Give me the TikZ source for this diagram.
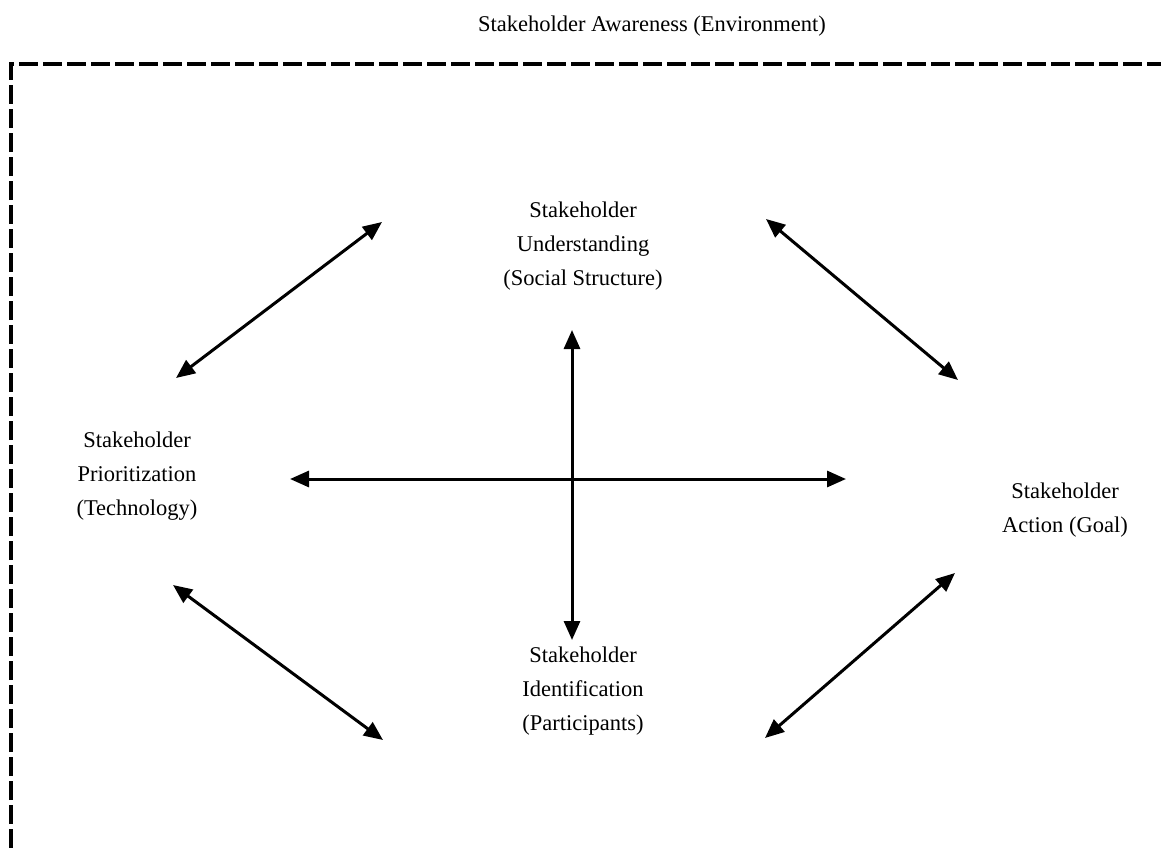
\documentclass[tikz,border=0pt]{standalone}
\usepackage{fontspec}
\setmainfont{Liberation Serif}
\usetikzlibrary{arrows.meta}
\begin{document}
\begin{tikzpicture}[x=1pt,y=-1pt,
  lbl/.style={align=center,font=\fontsize{22.5}{34}\selectfont,inner sep=0pt},
  dbl/.style={line width=3pt,{Triangle[length=19pt,width=16pt]}-{Triangle[length=19pt,width=16pt]}},
  border/.style={line width=4pt,dash pattern=on 19pt off 5pt}]
\useasboundingbox (0,0) rectangle (1161,848);
\node[lbl] (title) at (652,26) {Stakeholder Awareness (Environment)};
\node[lbl] (top) at (583,246) {Stakeholder\\Understanding\\(Social Structure)};
\node[lbl] (left) at (137,476) {Stakeholder\\Prioritization\\(Technology)};
\node[lbl] (right) at (1065,510) {Stakeholder\\Action (Goal)};
\node[lbl] (bottom) at (583,691) {Stakeholder\\Identification\\(Participants)};
\coordinate (bl) at (11,848);
\coordinate (tl) at (11,64);
\coordinate (tr) at (1161,64);
\draw[border] (bl) -- (tl) -- (tr);
\coordinate (ul1) at (176,378);
\coordinate (ul2) at (382,222);
\coordinate (ur1) at (766,219);
\coordinate (ur2) at (958,380);
\coordinate (ll1) at (173,585);
\coordinate (ll2) at (383,740);
\coordinate (lr1) at (955,573);
\coordinate (lr2) at (765,738);
\coordinate (h1) at (290,479);
\coordinate (h2) at (846,479);
\coordinate (v1) at (572,330);
\coordinate (v2) at (572,640);
\draw[dbl] (ul1) -- (ul2);
\draw[dbl] (ur1) -- (ur2);
\draw[dbl] (ll1) -- (ll2);
\draw[dbl] (lr1) -- (lr2);
\draw[dbl] (h1) -- (h2);
\draw[dbl] (v1) -- (v2);
\end{tikzpicture}
\end{document}
